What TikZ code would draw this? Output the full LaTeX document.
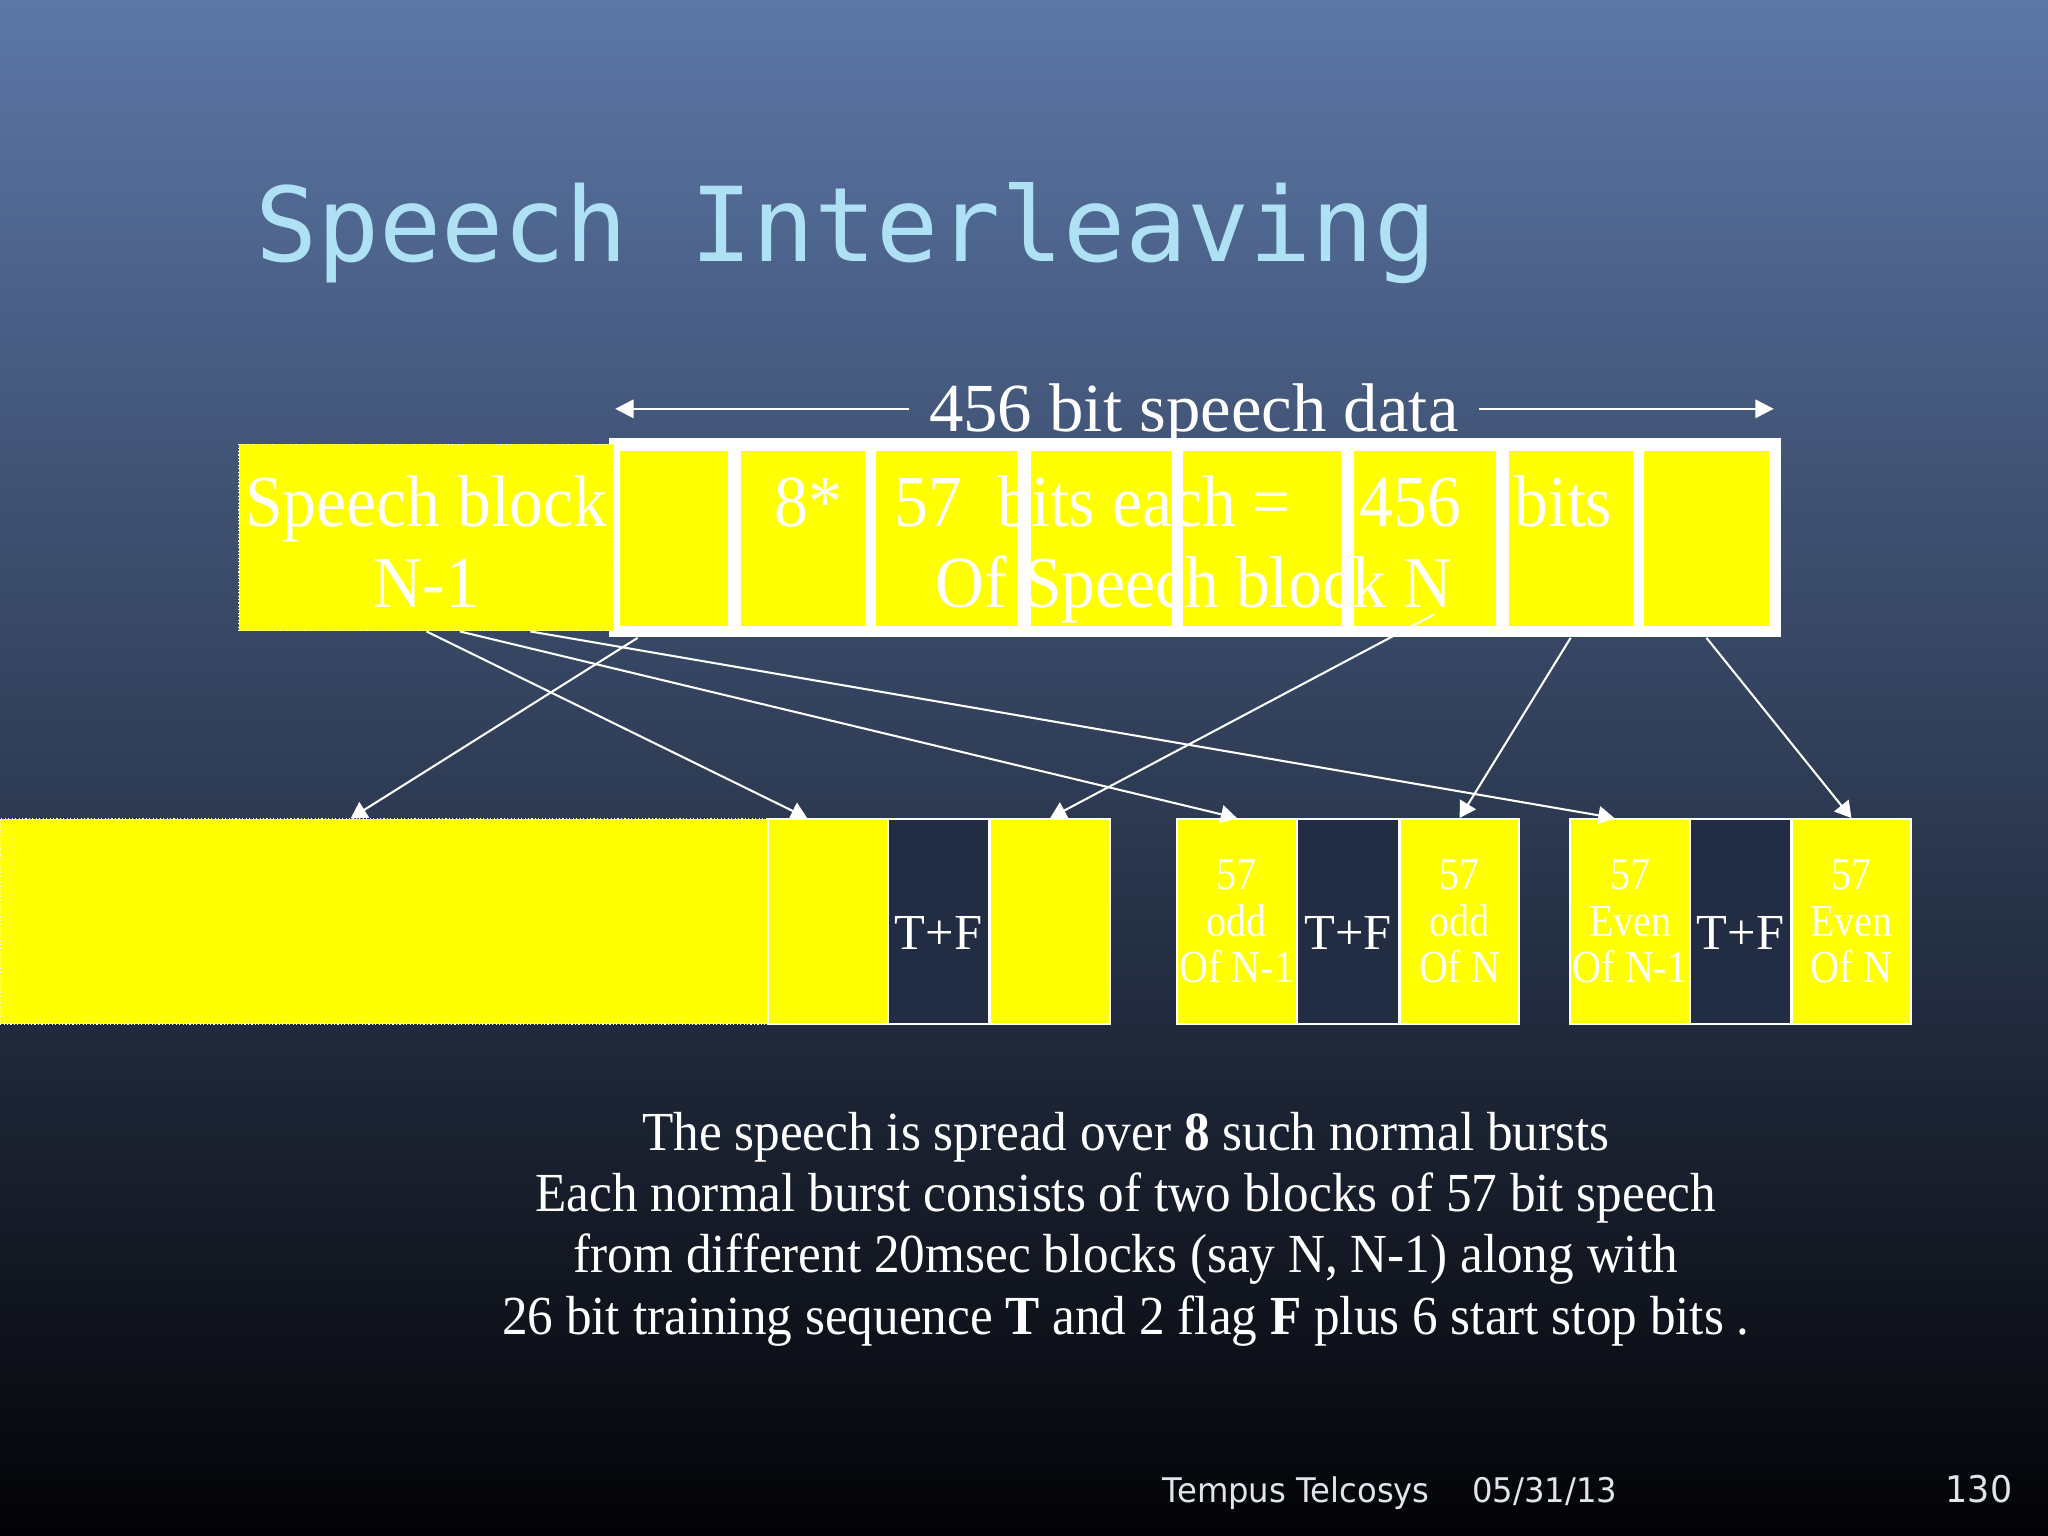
\documentclass[tikz,border=0pt]{standalone}
\usepackage{fontspec}
\setmainfont{Liberation Serif}
\newfontfamily\narrowserif[FakeStretch=0.92]{Liberation Serif}
\newfontfamily\textserif[FakeStretch=0.93]{Liberation Serif}
\newfontfamily\cellserif[FakeStretch=0.87]{Liberation Serif}
\newfontfamily\titlemono{DejaVu Sans Mono}
\newfontfamily\footsans[FakeStretch=0.95]{DejaVu Sans}
\usetikzlibrary{arrows.meta}
\definecolor{bgtop}{RGB}{92,119,167}
\definecolor{bgbot}{RGB}{3,3,6}
\definecolor{titleblue}{RGB}{175,225,245}
\definecolor{tfdark}{RGB}{34,44,66}
\definecolor{cellyellow}{RGB}{255,255,0}
\definecolor{footgray}{RGB}{225,228,235}
\begin{document}
\begin{tikzpicture}[x=0.02cm,y=-0.02cm,
		bitcell/.style={fill=cellyellow, inner sep=0, minimum height=2.68cm},
		nblock/.style={fill=cellyellow, draw=white!85!cellyellow, densely dotted, line width=0.5pt, inner sep=0},
		burstcell/.style={fill=cellyellow, draw=white, line width=0.8pt, inner sep=0, minimum height=3.14cm, text=white, align=center, font=\cellserif\fontsize{20}{20.2}\selectfont},
		tfcell/.style={burstcell, fill=tfdark, font=\fontsize{22}{24}\selectfont, text height=24pt, text depth=0pt},
		mapline/.style={white, line width=0.9pt, -{Triangle[width=8pt,length=7pt]}},
		rowtext/.style={white, anchor=base, inner sep=0, font=\narrowserif\fontsize{32}{36}\selectfont}]
		
		\useasboundingbox (0,0) rectangle (1568,1176);
		\shade[top color=bgtop, bottom color=bgbot] (0,0) rectangle (1568,1176);
		
		\node[anchor=base west, inner sep=0, text=titleblue, font=\titlemono\fontsize{45}{50}\selectfont] (title) at (195,200) {Speech Interleaving};
		
		\node[anchor=base, inner ysep=0, inner xsep=0.3cm, text=white, font=\fontsize{30}{34}\selectfont] (speechdata) at (914,330) {456 bit speech data};
		\coordinate (datal) at (471,313);
		\coordinate (datar) at (1358,313);
		\draw[white, line width=0.9pt, -{Triangle[width=8pt,length=8pt]}] (speechdata.west |- datal) -- (datal);
		\draw[white, line width=0.9pt, -{Triangle[width=8pt,length=8pt]}] (speechdata.east |- datar) -- (datar);
		
		\node[fill=white, inner sep=0, minimum width=17.96cm, minimum height=3.06cm] (frame) at (915,411.5) {};
		\node[bitcell, minimum width=1.64cm] (s1) at (516,412) {};
		\node[bitcell, minimum width=1.90cm] (s2) at (614.5,412) {};
		\node[bitcell, minimum width=2.16cm] (s3) at (725,412) {};
		\node[bitcell, minimum width=2.16cm] (s4) at (843,412) {};
		\node[bitcell, minimum width=2.42cm] (s5) at (966.5,412) {};
		\node[bitcell, minimum width=2.16cm] (s6) at (1091,412) {};
		\node[bitcell, minimum width=1.90cm] (s7) at (1202.5,412) {};
		\node[bitcell, minimum width=1.90cm] (s8) at (1306.5,412) {};
		\node[nblock, minimum width=5.74cm, minimum height=2.86cm] (nm1) at (326.5,411.5) {};
		
		\node[rowtext] (nm1a) at (326.5,403) {Speech block};
		\node[rowtext] (nm1b) at (326.5,465) {N-1};
		\node[rowtext] (eight) at (619,403) {8*};
		\node[rowtext] (fiftyseven) at (711,403) {57};
		\node[rowtext] (bitseach) at (876,403) {bits each =};
		\node[rowtext] (total) at (1080,403) {456};
		\node[rowtext] (bitsword) at (1197,403) {bits};
		\node[rowtext] (blockn) at (914,465) {Of Speech block N};
		
		\node[nblock, minimum width=11.76cm, minimum height=3.14cm] (bigblk) at (294,705.5) {};
		\node[burstcell, minimum width=1.84cm] (pa) at (634,705.5) {};
		\node[tfcell, minimum width=1.54cm] (tfa) at (718.5,705.5) {T+F};
		\node[burstcell, minimum width=1.84cm] (pb) at (804,705.5) {};
		
		\node[burstcell, minimum width=1.84cm] (oddnm) at (947,705.5) {57\\odd\\Of N-1};
		\node[tfcell, minimum width=1.56cm] (tfodd) at (1032,705.5) {T+F};
		\node[burstcell, minimum width=1.82cm] (oddn) at (1117.5,705.5) {57\\odd\\Of N};
		
		\node[burstcell, minimum width=1.84cm] (evennm) at (1248,705.5) {57\\Even\\Of N-1};
		\node[tfcell, minimum width=1.54cm] (tfeven) at (1332.5,705.5) {T+F};
		\node[burstcell, minimum width=1.82cm] (evenn) at (1417.5,705.5) {57\\Even\\Of N};
		
		\draw[mapline] (nm1.south) -- ([xshift=-0.32cm]pa.north);
		\draw[mapline] ([xshift=0.51cm]nm1.south) -- (oddnm.north);
		\draw[mapline] ([xshift=1.59cm]nm1.south) -- ([xshift=-0.24cm]evennm.north);
		\draw[mapline] ([xshift=0.45cm]frame.south west) -- ([xshift=-0.51cm]bigblk.north);
		\draw[mapline] ([xshift=0.14cm,yshift=0.18cm]s6.south) -- (pb.north);
		\draw[mapline] (s7.south |- frame.south) -- (oddn.north);
		\draw[mapline] (s8.south |- frame.south) -- (evenn.north);
		
		\node[anchor=north, inner sep=0, align=center, text=white, font=\textserif\fontsize{24}{26.7}\selectfont] (summary) at (862,851) {The speech is spread over \textbf{8} such normal bursts\\Each normal burst consists of two blocks of 57 bit speech\\ from different 20msec blocks (say N, N-1) along with\\26 bit training sequence \textbf{T} and 2 flag \textbf{F} plus 6 start stop bits .};
		
		\node[anchor=base west, inner sep=0, text=footgray, font=\footsans\fontsize{14.8}{16}\selectfont] (footname) at (890,1150) {Tempus Telcosys};
		\node[anchor=base west, inner sep=0, text=footgray, font=\footsans\fontsize{14.8}{16}\selectfont] (footdate) at (1127,1150) {05/31/13};
		\node[anchor=base east, inner sep=0, text=footgray, font=\footsans\fontsize{16}{18}\selectfont] (footpage) at (1541,1150) {130};
		
	\end{tikzpicture}
\end{document}
